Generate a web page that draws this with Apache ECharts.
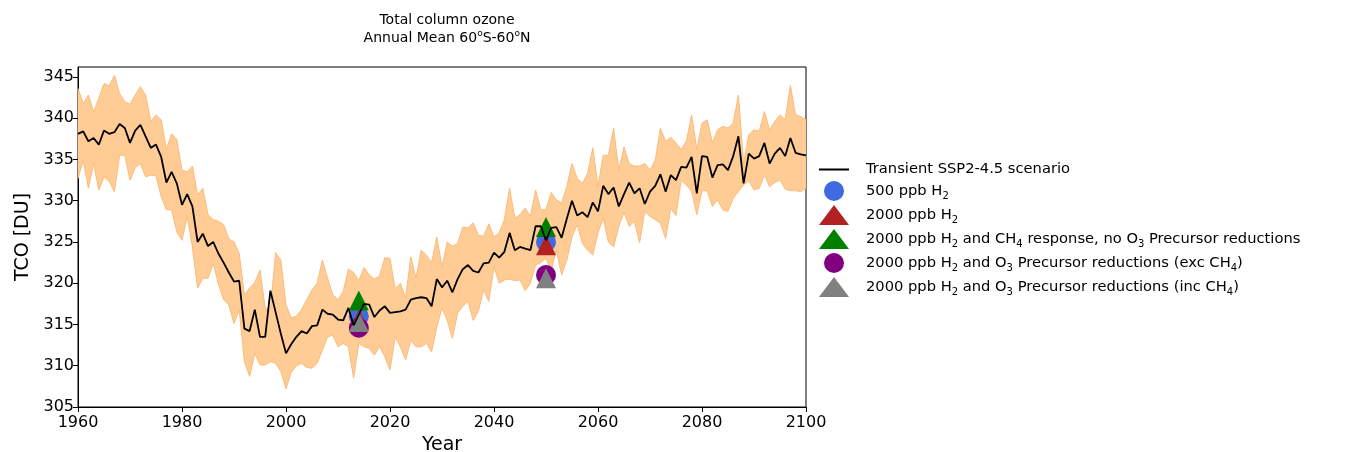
<!DOCTYPE html>
<html><head><meta charset="utf-8">
<script src="https://cdn.jsdelivr.net/npm/echarts@6/dist/echarts.min.js"></script>
<style>html,body{margin:0;padding:0;background:#fff}#c{width:1346px;height:452px}</style>
</head><body><div id="c"></div>
<script>
const START_YEAR = 1960;
const tcoMean = [
338.1,338.4,337.2,337.6,336.8,338.5,338.1,338.3,339.3,338.8,
337.0,338.5,339.2,337.8,336.4,336.8,335.3,332.2,333.5,332.1,
329.5,330.8,329.3,325.0,326.0,324.5,325.0,323.6,322.5,321.3,
320.2,320.3,314.5,314.2,316.8,313.5,313.5,319.1,316.5,313.9,
311.5,312.6,313.5,314.2,313.9,314.8,314.9,316.8,316.3,316.2,
315.6,315.5,317.0,314.9,316.2,317.5,317.4,315.9,316.7,317.2,
316.4,316.5,316.6,316.8,318.0,318.2,318.3,318.2,317.2,320.5,
319.5,320.3,318.9,320.5,321.7,322.2,321.5,321.3,322.4,322.5,
323.7,323.1,323.8,326.1,324.0,324.4,324.2,324.0,326.9,326.9,
325.2,326.7,326.8,325.5,327.8,330.0,328.2,328.6,328.0,329.8,
328.7,331.8,330.8,331.6,329.3,330.8,332.2,330.9,331.5,329.6,
331.1,331.8,333.2,331.1,333.1,332.5,334.1,334.0,335.3,330.9,
335.4,335.3,332.8,334.3,334.4,333.7,335.4,337.8,332.1,335.7,
335.1,335.4,337.0,334.5,335.7,336.4,335.4,337.6,335.8,335.6,
335.5];
const tcoUpper = [
343.6,341.8,342.8,340.8,342.4,344.2,343.9,345.2,343.0,342.0,
341.7,342.8,343.8,342.8,339.6,340.4,339.8,336.2,338.1,337.4,
333.7,333.5,334.2,330.7,331.5,328.3,327.7,327.5,327.1,325.4,
325.0,323.6,318.6,319.4,320.1,321.6,317.0,316.8,323.7,322.8,
317.4,315.8,316.0,316.8,318.0,319.2,320.0,322.8,320.6,318.6,
318.0,319.0,321.7,321.3,320.3,321.9,321.0,320.5,320.9,323.1,
323.0,319.3,320.0,318.2,323.2,320.6,324.0,323.4,322.5,325.6,
322.0,325.0,324.5,324.8,326.8,326.7,327.3,325.8,325.7,327.2,
325.6,326.1,327.7,331.5,327.9,328.3,329.1,328.1,331.3,328.9,
328.9,331.0,330.1,329.7,331.7,334.5,332.7,332.1,333.3,336.4,
331.7,335.5,335.5,338.8,333.7,336.5,334.5,334.2,334.2,334.5,
333.7,334.9,338.8,337.2,337.7,337.0,336.2,337.2,340.4,336.2,
339.4,339.8,337.0,338.6,339.0,338.8,339.4,342.8,334.5,338.0,
338.6,338.4,340.8,338.6,339.6,340.4,339.8,344.0,340.4,340.2,
339.8];
const tcoLower = [
332.7,334.9,331.5,334.5,331.3,332.9,332.3,331.1,335.5,335.5,
332.5,334.0,334.5,332.9,333.1,333.0,330.5,328.9,328.9,326.2,
325.2,328.1,324.4,319.4,320.6,320.6,322.4,319.9,318.0,317.4,
315.1,316.8,310.5,308.7,311.5,310.1,310.1,310.5,310.3,309.3,
307.2,309.2,310.0,310.3,309.8,309.7,310.3,311.9,313.5,313.7,
312.3,312.7,312.3,308.5,312.7,312.3,312.1,311.3,312.3,311.1,
309.5,313.5,312.3,310.7,313.1,312.3,312.3,312.7,311.7,314.7,
317.0,315.5,313.3,316.4,317.2,317.8,315.5,316.6,319.2,317.8,
322.0,320.0,320.4,320.5,320.3,320.4,319.1,320.0,322.2,322.5,
323.0,321.5,324.0,321.0,322.8,325.6,327.1,324.8,324.0,323.4,
326.1,327.9,325.0,324.4,326.9,328.6,326.9,327.5,324.9,328.7,
328.1,327.7,327.3,325.4,329.1,328.2,332.5,331.9,331.1,328.3,
331.2,331.2,329.3,330.1,328.9,328.7,330.3,331.1,331.9,332.4,
331.3,331.5,333.1,331.7,332.2,332.5,331.4,331.2,331.2,331.1,
331.5];
const markerYears = [2014, 2050];
const h2_500 = [316.0, 325.0];
const h2_2000 = [315.6, 324.6];
const h2_2000_ch4 = [317.9, 326.8];
const h2_2000_o3exc = [314.6, 321.0];
const h2_2000_o3inc = [315.3, 320.6];
const xTicks = [1960, 1980, 2000, 2020, 2040, 2060, 2080, 2100];
const yTicks = [305, 310, 315, 320, 325, 330, 335, 340, 345];

const years = tcoMean.map((_, i) => START_YEAR + i);
const pair = arr => arr.map((v, i) => [years[i], v]);
const mpair = arr => arr.map((v, i) => [markerYears[i], v]);
const bandData = years.map((y, i) => [y, tcoLower[i], tcoUpper[i]]);

const names = [
  'Transient SSP2-4.5 scenario',
  '500 ppb H2',
  '2000 ppb H2',
  '2000 ppb H2 and CH4 response, no O3 Precursor reductions',
  '2000 ppb H2 and O3 Precursor reductions (exc CH4)',
  '2000 ppb H2 and O3 Precursor reductions (inc CH4)'
];
const richNames = {
  [names[0]]: '{a|Transient SSP2-4.5 scenario}',
  [names[1]]: '{a|500 ppb H}{s|2}',
  [names[2]]: '{a|2000 ppb H}{s|2}',
  [names[3]]: '{a|2000 ppb H}{s|2}{a| and CH}{s|4}{a| response, no O}{s|3}{a| Precursor reductions}',
  [names[4]]: '{a|2000 ppb H}{s|2}{a| and O}{s|3}{a| Precursor reductions (exc CH}{s|4}{a|)}',
  [names[5]]: '{a|2000 ppb H}{s|2}{a| and O}{s|3}{a| Precursor reductions (inc CH}{s|4}{a|)}'
};
const FONT = 'DejaVu Sans';
const chart = echarts.init(document.getElementById('c'), null, {renderer: 'canvas'});
const bandColor = '#FFCC96';
const edgeColor = '#FDBB78';
function mk(name, data, symbol, color) {
  return {name, type: 'scatter', data: mpair(data), symbol, symbolSize: 20,
    itemStyle: {color, opacity: 1}, z: 3};
}
function renderBand(params, api) {
  if (params.dataIndex !== 0) return null;
  const up = years.map((y, i) => api.coord([y, tcoUpper[i]]));
  const lo = years.map((y, i) => api.coord([y, tcoLower[i]]));
  const poly = up.concat(lo.slice().reverse());
  return {type: 'group', children: [
    {type: 'polygon', shape: {points: poly}, style: {fill: bandColor, stroke: null}},
    {type: 'polyline', shape: {points: up}, style: {fill: null, stroke: edgeColor, lineWidth: 1}},
    {type: 'polyline', shape: {points: lo}, style: {fill: null, stroke: edgeColor, lineWidth: 1}}
  ]};
}
chart.setOption({
  animation: false,
  backgroundColor: '#fff',
  title: {
    text: 'Total column ozone\n{t|Annual Mean 60}{p|o}{t|S-60}{p|o}{t|N}',
    left: 442, top: 6, textAlign: 'center',
    textStyle: {fontFamily: FONT, fontSize: 14, fontWeight: 'normal', color: '#000', lineHeight: 18,
      rich: {t: {fontFamily: FONT, fontSize: 14, color: '#000', lineHeight: 18},
             p: {fontFamily: FONT, fontSize: 9, color: '#000', lineHeight: 18, verticalAlign: 'top', padding: [0,0,6,0]}}}
  },
  grid: {left: 78, top: 67, width: 728, height: 340, show: true, borderColor: '#000', borderWidth: 1,
    containLabel: false, outerBoundsMode: 'none'},
  legend: {
    orient: 'vertical', left: 814, top: 157, itemWidth: 30, itemHeight: 20, itemGap: 4,
    data: [
      {name: names[0], icon: 'path://M0,0h30v2h-30z'},
      {name: names[1], icon: 'circle'},
      {name: names[2], icon: 'triangle'},
      {name: names[3], icon: 'triangle'},
      {name: names[4], icon: 'circle'},
      {name: names[5], icon: 'triangle'}
    ],
    formatter: n => richNames[n],
    textStyle: {fontFamily: FONT, fontSize: 14.7, color: '#000', padding: [0,0,0,12],
      rich: {a: {fontFamily: FONT, fontSize: 14.7, color: '#000', lineHeight: 20},
             s: {fontFamily: FONT, fontSize: 10, color: '#000', lineHeight: 12, verticalAlign: 'bottom'}}}
  },
  xAxis: {
    type: 'value', min: 1960, max: 2100, interval: 20,
    name: 'Year', nameLocation: 'middle', nameGap: 28,
    nameTextStyle: {fontFamily: FONT, fontSize: 19, color: '#000'},
    axisLine: {show: true, onZero: false, lineStyle: {color: '#000'}},
    axisTick: {show: true, length: 5, lineStyle: {color: '#000'}, customValues: xTicks},
    axisLabel: {fontFamily: FONT, fontSize: 16, color: '#000', margin: 8, customValues: xTicks,
      formatter: v => String(v)},
    splitLine: {show: false}
  },
  yAxis: {
    type: 'value', min: 305, max: 346.2,
    name: 'TCO [DU]', nameLocation: 'middle', nameGap: 32, nameRotate: 90,
    nameTextStyle: {fontFamily: FONT, fontSize: 19, color: '#000'},
    axisLine: {show: true, onZero: false, lineStyle: {color: '#000'}},
    axisTick: {show: true, length: 5, lineStyle: {color: '#000'}, customValues: yTicks},
    axisLabel: {fontFamily: FONT, fontSize: 16, color: '#000', margin: 4, customValues: yTicks,
      formatter: v => String(v)},
    splitLine: {show: false}
  },
  series: [
    {name: '_band', type: 'custom', data: bandData, encode: {x: 0, y: [1, 2]},
      renderItem: renderBand, z: 1, silent: true},
    mk(names[1], h2_500, 'circle', '#4169E1'),
    mk(names[2], h2_2000, 'triangle', '#B22222'),
    mk(names[3], h2_2000_ch4, 'triangle', '#008000'),
    mk(names[4], h2_2000_o3exc, 'circle', '#800080'),
    mk(names[5], h2_2000_o3inc, 'triangle', '#808080'),
    {name: names[0], type: 'line', data: pair(tcoMean), symbol: 'none', showSymbol: false,
      lineStyle: {width: 1.8, color: '#000'}, itemStyle: {color: '#000'}, z: 5}
  ]
});
</script></body></html>
